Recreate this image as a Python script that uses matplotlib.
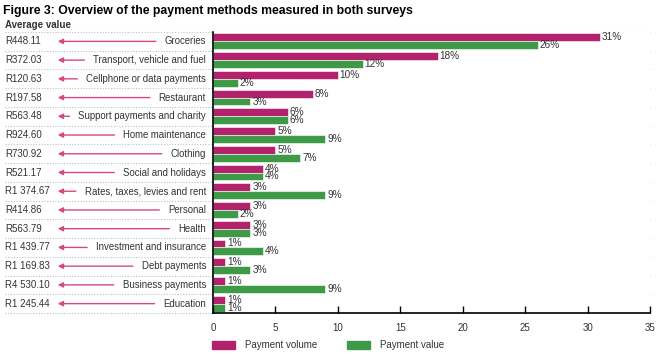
import matplotlib
matplotlib.use("Agg")
import matplotlib.pyplot as plt
from matplotlib.patches import Rectangle, FancyArrowPatch
from matplotlib.lines import Line2D

categories = ["Groceries", "Transport, vehicle and fuel", "Cellphone or data payments",
              "Restaurant", "Support payments and charity", "Home maintenance", "Clothing",
              "Social and holidays", "Rates, taxes, levies and rent", "Personal", "Health",
              "Investment and insurance", "Debt payments", "Business payments", "Education"]
avg_values = ["R448.11", "R372.03", "R120.63", "R197.58", "R563.48", "R924.60", "R730.92",
              "R521.17", "R1 374.67", "R414.86", "R563.79", "R1 439.77", "R1 169.83",
              "R4 530.10", "R1 245.44"]
payment_volume = [31, 18, 10, 8, 6, 5, 5, 4, 3, 3, 3, 1, 1, 1, 1]
payment_value = [26, 12, 2, 3, 6, 9, 7, 4, 9, 2, 3, 4, 3, 9, 1]
xticks = [0, 5, 10, 15, 20, 25, 30, 35]

MAG = "#b3236d"
GRN = "#3f9a48"
PINK = "#d6478a"
TXT = "#333333"
GRID = "#b8c4cc"

plt.rcParams['font.family'] = ['Liberation Sans', 'DejaVu Sans']

W, H = 660, 361
fig = plt.figure(figsize=(W / 100, H / 100), dpi=100)
ax = fig.add_axes([213 / W, 1 - 313 / H, (650 - 213) / W, (313 - 32) / H])

n = len(categories)
ys = list(range(n))
bh = 0.42
ax.barh([y - bh / 2 for y in ys], payment_volume, height=bh, color=MAG, edgecolor="white", linewidth=0.4)
ax.barh([y + bh / 2 for y in ys], payment_value, height=bh, color=GRN, edgecolor="white", linewidth=0.4)
for y, v1, v2 in zip(ys, payment_volume, payment_value):
    ax.text(v1 + 0.15, y - bh / 2, f"{v1}%", va="center", ha="left", fontsize=7.2, color=TXT)
    ax.text(v2 + 0.15, y + bh / 2, f"{v2}%", va="center", ha="left", fontsize=7.2, color=TXT)

ax.set_xlim(0, 35)
ax.set_ylim(n - 0.5, -0.5)
ax.set_xticks(xticks)
ax.set_xticklabels([str(t) for t in xticks], fontsize=7, color=TXT)
ax.set_yticks([])
ax.tick_params(axis="x", direction="in", length=5, width=1, pad=7, color="black")
for s in ["top", "right"]:
    ax.spines[s].set_visible(False)
ax.spines["left"].set_linewidth(1.2)
ax.spines["bottom"].set_linewidth(1.2)

x0f, x1f = 5 / W, 650 / W
for b in range(n):
    yb = -0.5 + b
    yf = fig.transFigure.inverted().transform(ax.transData.transform((0, yb)))[1]
    fig.add_artist(Line2D([x0f, x1f], [yf, yf], transform=fig.transFigure, color=GRID,
                          linestyle=(0, (1, 1.5)), linewidth=0.8, zorder=0))
yf = fig.transFigure.inverted().transform(ax.transData.transform((0, n - 0.5)))[1]
fig.add_artist(Line2D([x0f, 213 / W], [yf, yf], transform=fig.transFigure, color=GRID,
                      linestyle=(0, (1, 1.5)), linewidth=0.8, zorder=0))

fig.text(3 / W, 1 - 11 / H, "Figure 3: Overview of the payment methods measured in both surveys",
         fontsize=8.8, fontweight="bold", va="center", ha="left", color="black")
fig.text(5 / W, 1 - 25 / H, "Average value", fontsize=7, fontweight="bold", va="center",
         ha="left", color=TXT)

labels = []
for y, cat, av in zip(ys, categories, avg_values):
    yf = fig.transFigure.inverted().transform(ax.transData.transform((0, y)))[1]
    fig.text(5 / W, yf, av, fontsize=7, va="center", ha="left", color=TXT)
    t = fig.text(206 / W, yf, cat, fontsize=6.9, va="center", ha="right", color=TXT)
    labels.append((t, yf))

fig.canvas.draw()
r = fig.canvas.get_renderer()
for t, yf in labels:
    bb = t.get_window_extent(renderer=r)
    xr = (bb.x0 - 6) / W
    fig.add_artist(FancyArrowPatch(
        (xr, yf), (55 / W, yf), transform=fig.transFigure,
        arrowstyle="-|>,head_length=3,head_width=1.5",
        color=PINK, linewidth=1.0, mutation_scale=1))

for (x, col, lab) in [(212, MAG, "Payment volume"), (347, GRN, "Payment value")]:
    fig.add_artist(Rectangle((x / W, 1 - 349 / H), 23 / W, 8 / H, transform=fig.transFigure,
                             color=col))
    fig.text((x + 33) / W, 1 - 345 / H, lab, fontsize=7, va="center", ha="left", color=TXT)

fig.savefig("out.png", dpi=100)
